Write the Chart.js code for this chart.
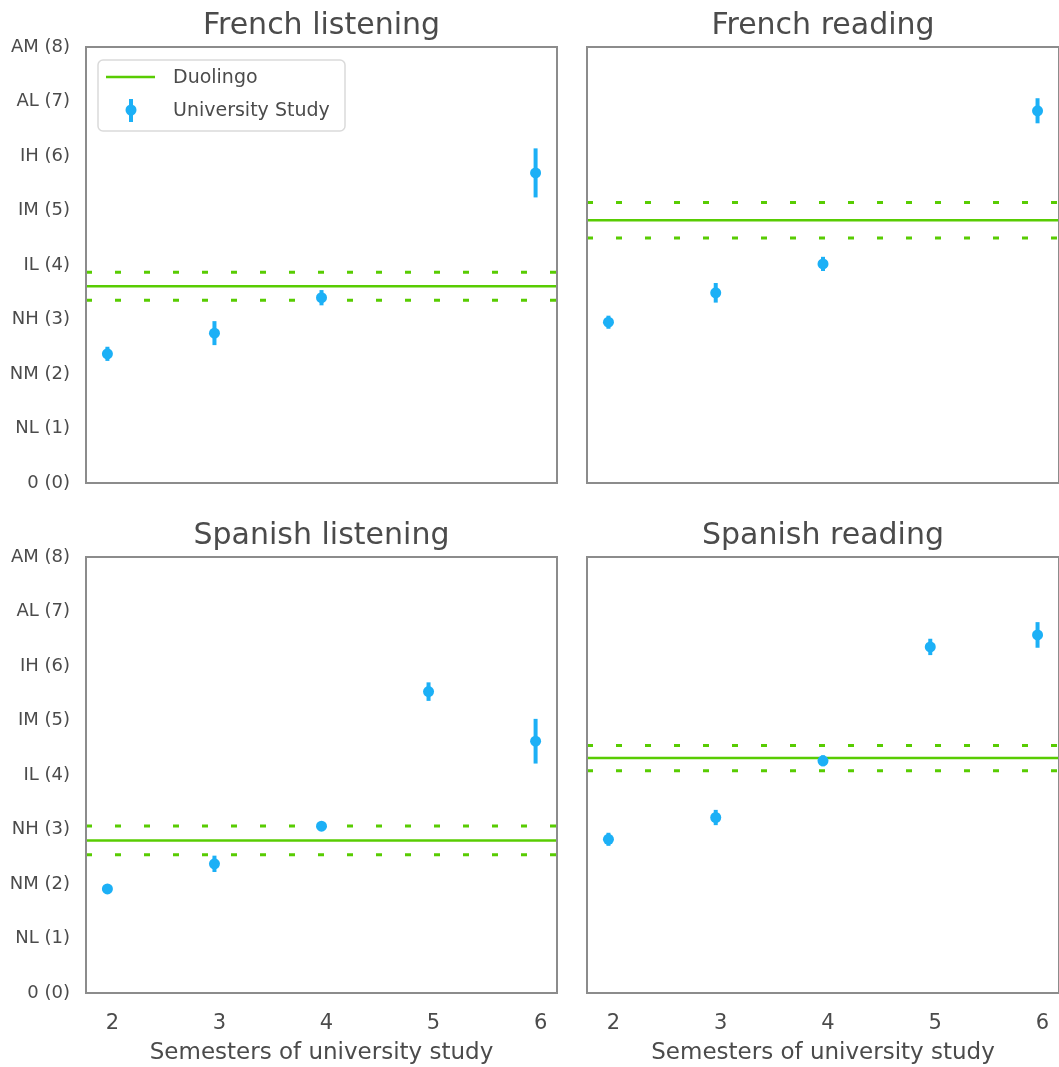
<!DOCTYPE html>
<html>
<head>
<meta charset="utf-8">
<title>Duolingo vs university study – ACTFL proficiency</title>
<script src="https://cdn.jsdelivr.net/npm/chart.js@4.4.1/dist/chart.umd.min.js"></script>
<style>
  html, body { margin: 0; padding: 0; background: #ffffff; }
  #grid { position: relative; width: 1059px; height: 1067px; overflow: hidden; }
  .panel { position: absolute; }
</style>
</head>
<body>
<div id="grid">
  <div class="panel" style="left:0px;top:0px;width:560px;height:500px"><canvas id="c0"></canvas></div>
  <div class="panel" style="left:560px;top:0px;width:499px;height:500px"><canvas id="c1"></canvas></div>
  <div class="panel" style="left:0px;top:510px;width:560px;height:557px"><canvas id="c2"></canvas></div>
  <div class="panel" style="left:560px;top:510px;width:499px;height:557px"><canvas id="c3"></canvas></div>
</div>
<script>
// ---- data -------------------------------------------------------------
const semesters = [2, 3, 4, 5, 6];
const levelLabels = ['0 (0)', 'NL (1)', 'NM (2)', 'NH (3)', 'IL (4)', 'IM (5)', 'IH (6)', 'AL (7)', 'AM (8)'];
const panelTitles = ['French listening', 'French reading', 'Spanish listening', 'Spanish reading'];
const xAxisTitle = 'Semesters of university study';
const legendLabels = ['Duolingo', 'University Study'];

// university students: mean level per semester (null = no group) and error half-width
const frenchListeningMean = [2.37, 2.75, 3.40, null, 5.69];
const frenchListeningErr  = [0.13, 0.22, 0.14, null, 0.45];
const frenchReadingMean   = [2.95, 3.49, 4.02, null, 6.83];
const frenchReadingErr    = [0.12, 0.18, 0.13, null, 0.23];
const spanishListeningMean = [1.91, 2.37, 3.06, 5.53, 4.62];
const spanishListeningErr  = [0.04, 0.15, 0.06, 0.17, 0.41];
const spanishReadingMean   = [2.82, 3.22, 4.26, 6.35, 6.57];
const spanishReadingErr    = [0.12, 0.14, 0.10, 0.15, 0.235];

// Duolingo learners: mean level and band half-width (dashed lines), one per panel
const duolingoMean = [3.61, 4.82, 2.80, 4.31];
const duolingoBand = [0.255, 0.325, 0.265, 0.23];

// ---- styling ----------------------------------------------------------
const GREEN = '#58cc02';
const BLUE = '#1cb0f6';
const INK = '#4b4b4b';
const FRAME = '#8c8c8c';
const FONT = "'DejaVu Sans', sans-serif";
const X_MIN = 1.8, X_MAX = 6.2;

const studyMeans = [frenchListeningMean, frenchReadingMean, spanishListeningMean, spanishReadingMean];
const studyErrs  = [frenchListeningErr, frenchReadingErr, spanishListeningErr, spanishReadingErr];

// vertical error bars, drawn just before the marker dataset
const errorBars = {
  id: 'errorBars',
  beforeDatasetDraw(chart, args) {
    const ds = chart.data.datasets[args.index];
    if (!ds.errors) return;
    const xs = chart.scales.x, ys = chart.scales.y, ctx = chart.ctx;
    ctx.save();
    ctx.strokeStyle = ds.pointBackgroundColor;
    ctx.lineWidth = 4;
    ds.data.forEach((p, k) => {
      const e = ds.errors[k];
      const px = xs.getPixelForValue(p.x);
      ctx.beginPath();
      ctx.moveTo(px, ys.getPixelForValue(p.y - e));
      ctx.lineTo(px, ys.getPixelForValue(p.y + e));
      ctx.stroke();
    });
    ctx.restore();
  }
};

// box around the plotting area
const frame = {
  id: 'frame',
  afterDraw(chart) {
    const a = chart.chartArea, ctx = chart.ctx;
    ctx.save();
    ctx.strokeStyle = FRAME;
    ctx.lineWidth = 2;
    ctx.strokeRect(a.left, a.top, a.right - a.left, a.bottom - a.top);
    ctx.restore();
  }
};

// legend box in the upper-left corner of the first panel
const cornerLegend = {
  id: 'cornerLegend',
  afterDraw(chart, args, opts) {
    if (!opts.show) return;
    const a = chart.chartArea, ctx = chart.ctx;
    const x0 = a.left + 12, y0 = a.top + 13, w = 247, h = 71, r = 5;
    ctx.save();
    ctx.beginPath();
    ctx.roundRect(x0, y0, w, h, r);
    ctx.fillStyle = 'rgba(255,255,255,0.85)';
    ctx.fill();
    ctx.strokeStyle = '#dadada';
    ctx.lineWidth = 1.5;
    ctx.stroke();
    // Duolingo entry: solid line
    const rowA = y0 + 17, rowB = y0 + 50;
    ctx.strokeStyle = GREEN;
    ctx.lineWidth = 2.5;
    ctx.beginPath();
    ctx.moveTo(x0 + 8, rowA);
    ctx.lineTo(x0 + 57, rowA);
    ctx.stroke();
    // University Study entry: marker with error bar
    const mx = x0 + 33;
    ctx.strokeStyle = BLUE;
    ctx.lineWidth = 4;
    ctx.beginPath();
    ctx.moveTo(mx, rowB - 11);
    ctx.lineTo(mx, rowB + 12);
    ctx.stroke();
    ctx.fillStyle = BLUE;
    ctx.beginPath();
    ctx.arc(mx, rowB, 5.5, 0, Math.PI * 2);
    ctx.fill();
    ctx.fillStyle = INK;
    ctx.font = "19px " + FONT;
    ctx.textBaseline = 'middle';
    ctx.textAlign = 'left';
    ctx.fillText(legendLabels[0], x0 + 75, rowA + 1);
    ctx.fillText(legendLabels[1], x0 + 75, rowB + 1);
    ctx.restore();
  }
};

function hline(v) { return [{ x: X_MIN, y: v }, { x: X_MAX, y: v }]; }

function makePanel(i, leftCol, bottomRow) {
  const mean = studyMeans[i], err = studyErrs[i];
  const pts = [], errs = [];
  semesters.forEach((s, k) => {
    if (mean[k] == null) return;
    pts.push({ x: s, y: mean[k] });
    errs.push(err[k]);
  });
  const d = duolingoMean[i], b = duolingoBand[i];

  return new Chart(document.getElementById('c' + i), {
    type: 'scatter',
    data: {
      datasets: [
        { label: legendLabels[1], data: pts, errors: errs, pointRadius: 5.5, pointHoverRadius: 5.5,
          pointBackgroundColor: BLUE, pointBorderWidth: 0, showLine: false },
        { label: legendLabels[0], data: hline(d), showLine: true, borderColor: GREEN, borderWidth: 2.5,
          pointRadius: 0 },
        { label: 'upper', data: hline(d + b), showLine: true, borderColor: GREEN, borderWidth: 3,
          borderDash: [6, 23], pointRadius: 0 },
        { label: 'lower', data: hline(d - b), showLine: true, borderColor: GREEN, borderWidth: 3,
          borderDash: [6, 23], pointRadius: 0 }
      ]
    },
    options: {
      responsive: true,
      maintainAspectRatio: false,
      animation: false,
      events: [],
      layout: {
        autoPadding: false,
        padding: { left: leftCol ? 0 : 27, right: leftCol ? 3 : 0, top: 0, bottom: bottomRow ? 0 : 17 }
      },
      plugins: {
        legend: { display: false },
        tooltip: { enabled: false },
        title: {
          display: true, text: panelTitles[i], fullSize: false, color: INK,
          font: { family: FONT, size: 30, weight: 'normal', lineHeight: 1.2 },
          padding: { top: 8, bottom: 3 }
        },
        cornerLegend: { show: i === 0 }
      },
      scales: {
        x: {
          type: 'linear', min: X_MIN, max: X_MAX, display: bottomRow,
          afterBuildTicks: s => { s.ticks = semesters.map(v => ({ value: v })); },
          afterFit: s => {
            s.height = bottomRow ? 74 : 0;
            s.paddingLeft = 0; s.paddingRight = 0;
          },
          grid: { display: false, drawTicks: false },
          border: { display: false },
          ticks: { color: INK, font: { family: FONT, size: 21 }, padding: 18, maxRotation: 0,
                   labelOffset: 5, autoSkip: false, callback: v => String(v) },
          title: { display: true, text: xAxisTitle, color: INK, font: { family: FONT, size: 23 },
                   padding: { top: 0, bottom: 0 } }
        },
        y: {
          type: 'linear', min: 0, max: 8, display: leftCol,
          afterBuildTicks: s => { s.ticks = levelLabels.map((_, v) => ({ value: v })); },
          afterFit: s => {
            s.width = leftCol ? 86 : 0;
            s.paddingTop = 0; s.paddingBottom = 0;
          },
          grid: { display: false, drawTicks: false },
          border: { display: false },
          ticks: { color: INK, font: { family: FONT, size: 18 }, padding: 16, autoSkip: false,
                   callback: v => levelLabels[v] }
        }
      }
    },
    plugins: [errorBars, frame, cornerLegend]
  });
}

makePanel(0, true, false);
makePanel(1, false, false);
makePanel(2, true, true);
makePanel(3, false, true);
</script>
</body>
</html>
